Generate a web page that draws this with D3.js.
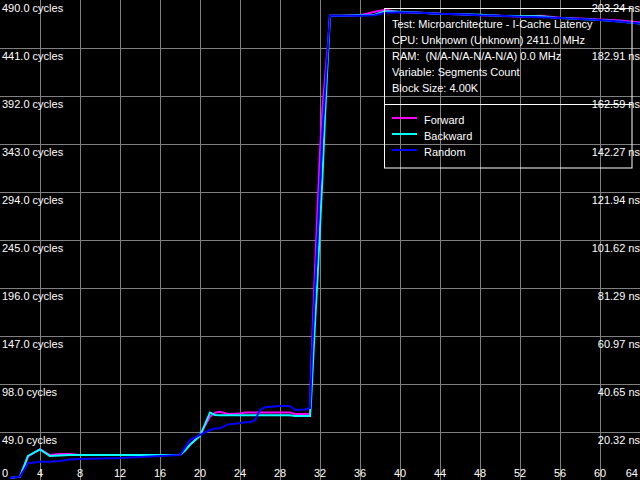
<!DOCTYPE html>
<html><head><meta charset="utf-8">
<script src="https://cdn.jsdelivr.net/npm/d3@7"></script>
<style>html,body{margin:0;padding:0;background:#000;}svg{display:block;}text{white-space:pre;}</style>
</head><body>
<script>
const segments = [1,2,2.8,4,5,6,7,8,10,12,14,16,17,18,18.5,19,20,21,21.5,22,22.8,24,24.5,25,25.5,26,26.5,28,29,29.5,30.5,31,31.1,31.25,31.5,31.75,32,32.25,32.5,32.75,33,34,36,37.5,38.5,40,42,44,46,48,50,52,54,56,58,60,62,64];
const forward = [2,3.4,24,31.5,25.5,26.5,26.5,25.5,25.5,25.5,25.5,25.5,25.5,25.5,30,36,46,64.6,68.7,69.7,67.4,68,69,69,69,69,69,69,69,67.4,67.4,67.4,110,150,215,275,335,380,410,440,474,474,474.5,478,480,477.5,477,476,475.5,474.5,474,473,474,472,471,470,469,467];
const backward = [2,3.4,24.5,31.3,24.5,25,25.5,25.5,25.5,25.5,25.5,25.5,25.5,25.5,30,36,45,68.7,66.4,66,66,66,66,66,66,66,66,66,66,65.3,65.3,65.3,80,110,160,205,258,310,371,425,474,474,474.5,475,478.5,478,477,476,475.5,475,474,473.5,473.5,471.5,470.5,469.5,468,466];
const random = [2,3.5,17,18.7,18.7,19.5,21,21.5,22,22.5,23.5,24.5,25,25.5,33,40.8,46,51,52.5,52.7,56.8,58,58.9,59,61,71.5,74.2,75.5,75.5,71.5,72,73.5,100,140,195,245,300,355,395,435,474,474,474,474.5,477,477.5,477,476,475.5,474.5,474,473,472.5,471.5,470.5,469.5,468,466];
const seriesNames = ["Forward","Backward","Random"];
const seriesColors = ["#ff00ff","#00ffff","#0000ff"];
const xTicks = [0,4,8,12,16,20,24,28,32,36,40,44,48,52,56,60,64];
const yTicks = [49,98,147,196,245,294,343,392,441,490];
const yTickLabels = ["49.0 cycles","98.0 cycles","147.0 cycles","196.0 cycles","245.0 cycles","294.0 cycles","343.0 cycles","392.0 cycles","441.0 cycles","490.0 cycles"];
const nsTickLabels = ["20.32 ns","40.65 ns","60.97 ns","81.29 ns","101.62 ns","121.94 ns","142.27 ns","162.59 ns","182.91 ns","203.24 ns"];
const infoLines = ["Test: Microarchitecture - I-Cache Latency","CPU: Unknown (Unknown) 2411.0 MHz","RAM:  (N/A-N/A-N/A-N/A) 0.0 MHz","Variable: Segments Count","Block Size: 4.00K"];

const W = 640, H = 480;
const svg = d3.select("body").append("svg").attr("width", W).attr("height", H)
  .style("background", "#000")
  .style("font-family", "Arial, 'Liberation Sans', sans-serif").style("font-size", "11px");
const x = d3.scaleLinear().domain([0, 64]).range([0, 640]);
const y = d3.scaleLinear().domain([0, 490]).range([480, 0]);

// grid
const grid = svg.append("g").attr("stroke", "#808080").attr("stroke-width", 1);
xTicks.filter(v => v > 0 && v < 64).forEach(v => {
  grid.append("line").attr("x1", Math.round(x(v)) + 0.5).attr("x2", Math.round(x(v)) + 0.5).attr("y1", 0).attr("y2", H);
});
yTicks.filter(v => v < 490).forEach(v => {
  grid.append("line").attr("y1", Math.round(y(v)) + 0.5).attr("y2", Math.round(y(v)) + 0.5).attr("x1", 0).attr("x2", W);
});

// labels
const lab = svg.append("g").attr("fill", "#ffffff");
yTicks.forEach((v, i) => {
  lab.append("text").attr("x", 2).attr("y", Math.round(y(v)) + 12).text(yTickLabels[i]);
  lab.append("text").attr("x", 640).attr("y", Math.round(y(v)) + 12).attr("text-anchor", "end").text(nsTickLabels[i]);
});
xTicks.forEach(v => {
  const t = lab.append("text").attr("x", x(v)).attr("y", 477).attr("text-anchor", "middle").text(String(v));
  const w = t.node().getComputedTextLength();
  if (x(v) - w / 2 < 2) t.attr("text-anchor", "start").attr("x", 2);
  if (x(v) + w / 2 > 638) t.attr("text-anchor", "end").attr("x", 638);
});

// series
const line = d3.line().x((d, i) => x(segments[i])).y(d => y(d));
[forward, backward, random].forEach((s, k) => {
  svg.append("path").datum(s).attr("d", line).attr("fill", "none")
    .attr("stroke", seriesColors[k]).attr("stroke-width", 2);
});

// legend box
const lg = svg.append("g");
lg.append("rect").attr("x", 384.5).attr("y", 8.5).attr("width", 247.5).attr("height", 159.5)
  .attr("fill", "none").attr("stroke", "#ffffff").attr("stroke-width", 1);
lg.append("line").attr("x1", 384.5).attr("x2", 632).attr("y1", 104.5).attr("y2", 104.5).attr("stroke", "#ffffff");
infoLines.forEach((t, i) => {
  lg.append("text").attr("x", 392).attr("y", 27.5 + 16 * i).attr("fill", "#ffffff")
    .attr("xml:space", "preserve").text(t);
});
seriesNames.forEach((n, i) => {
  const yy = 123.5 + 16 * i;
  lg.append("line").attr("x1", 392).attr("x2", 417).attr("y1", yy - 5.5).attr("y2", yy - 5.5)
    .attr("stroke", seriesColors[i]).attr("stroke-width", 2);
  lg.append("text").attr("x", 424).attr("y", yy).attr("fill", "#ffffff").text(n);
});
</script>
</body></html>
